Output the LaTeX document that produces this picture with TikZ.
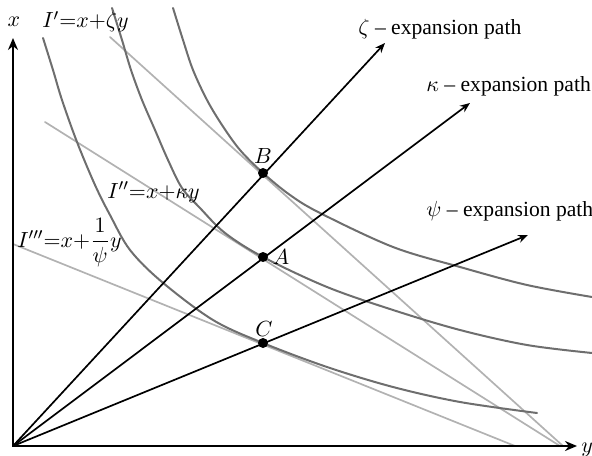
\documentclass[tikz,border=0pt]{standalone}
\usepackage{fontspec}
\setmainfont{Liberation Serif}
\usetikzlibrary{arrows.meta}
\definecolor{curvegray}{HTML}{6E6E6E}
\definecolor{linegray}{HTML}{B2B2B2}
\tikzset{
    lab/.style={
        font=\fontsize{10.8}{13}\selectfont, inner sep=0pt
    },
    axisline/.style={line width=1.2pt, {Stealth[length=6pt,width=5pt]}-{Stealth[length=6pt,width=5pt]}},
    expath/.style={line width=0.85pt, -{Stealth[length=5pt,width=4pt]}},
    budget/.style={linegray, line width=0.85pt},
    indiff/.style={curvegray, line width=1pt},
    dot/.style={circle, fill=black, inner sep=0pt, minimum size=5pt}
}

\begin{document}
\begin{tikzpicture}[x=0.5pt,y=0.5pt, line cap=round, line join=miter]

\useasboundingbox (-13,-9) rectangle (579,446);

% origin, axes and tangency points
\coordinate (O) at (0,0);
\coordinate (xTip) at (0,408);
\coordinate (yTip) at (564,0);
\coordinate (B) at (250,273);
\coordinate (A) at (250,189);
\coordinate (C) at (250,103);

% budget lines
\coordinate (zetaTop) at (97,409);
\coordinate (zetaFoot) at (550,0);
\coordinate (kappaTop) at (32,324);
\coordinate (kappaFoot) at (547,0);
\coordinate (psiTop) at (0,202);
\coordinate (psiFoot) at (502,0);
\draw[budget] (zetaTop) -- (zetaFoot);
\draw[budget] (kappaTop) -- (kappaFoot);
\draw[budget] (psiTop) -- (psiFoot);

% indifference curves
\draw[indiff] plot[smooth, tension=0.55] coordinates {(30,408) (40,376) (49,346) (64,304)
  (82,261) (97,231) (117,196) (149,164) (200,126) (250,103) (314,79) (380,59) (447,44) (524,33)};
\draw[indiff] plot[smooth, tension=0.55] coordinates {(99,438) (109,406) (118,376) (129,346)
  (142,316) (155,286) (169,258) (187,238) (212,213) (250,189) (314,159) (380,136) (447,116)
  (514,101) (579,93)};
\draw[indiff] plot[smooth, tension=0.55] coordinates {(160,438) (170,406) (180,376) (194,346)
  (209,321) (227,296) (250,273) (277,251) (307,233) (380,199) (447,179) (514,161) (579,149)};

% expansion paths
\coordinate (zetaEnd) at (372,403);
\coordinate (kappaEnd) at (457,343);
\coordinate (psiEnd) at (515,211);
\draw[expath] (O) -- (zetaEnd);
\draw[expath] (O) -- (kappaEnd);
\draw[expath] (O) -- (psiEnd);

\draw[axisline] (xTip) -- (O) -- (yTip);

\node[dot] (Bdot) at (B) {};
\node[dot] (Adot) at (A) {};
\node[dot] (Cdot) at (C) {};

% labels
\node[lab] (xLab) at (1,424) {$x$};
\node[lab, anchor=base west] (yLab) at (568,-6) {$y$};
\node[lab] (BLab) at (250,290) {$B$};
\node[lab] (ALab) at (268,189) {$A$};
\node[lab] (CLab) at (251,117) {$C$};
\node[lab, anchor=base west] (zetaLab) at (345,411) {$\zeta$ -- expansion path};
\node[lab, anchor=base west] (kappaLab) at (413,354) {$\kappa$ -- expansion path};
\node[lab, anchor=base west] (psiLab) at (413,229) {$\psi$ -- expansion path};
\node[lab, anchor=base west] (ILab1) at (29,418) {$I'{=}x{+}\zeta y$};
\node[lab, anchor=base west] (ILab2) at (94,248) {$I''{=}x{+}\kappa y$};
\node[lab, anchor=base west] (ILab3) at (4,199) {$I'''{=}x{+}{\displaystyle\frac{1}{\psi}}y$};

\end{tikzpicture}
\end{document}
